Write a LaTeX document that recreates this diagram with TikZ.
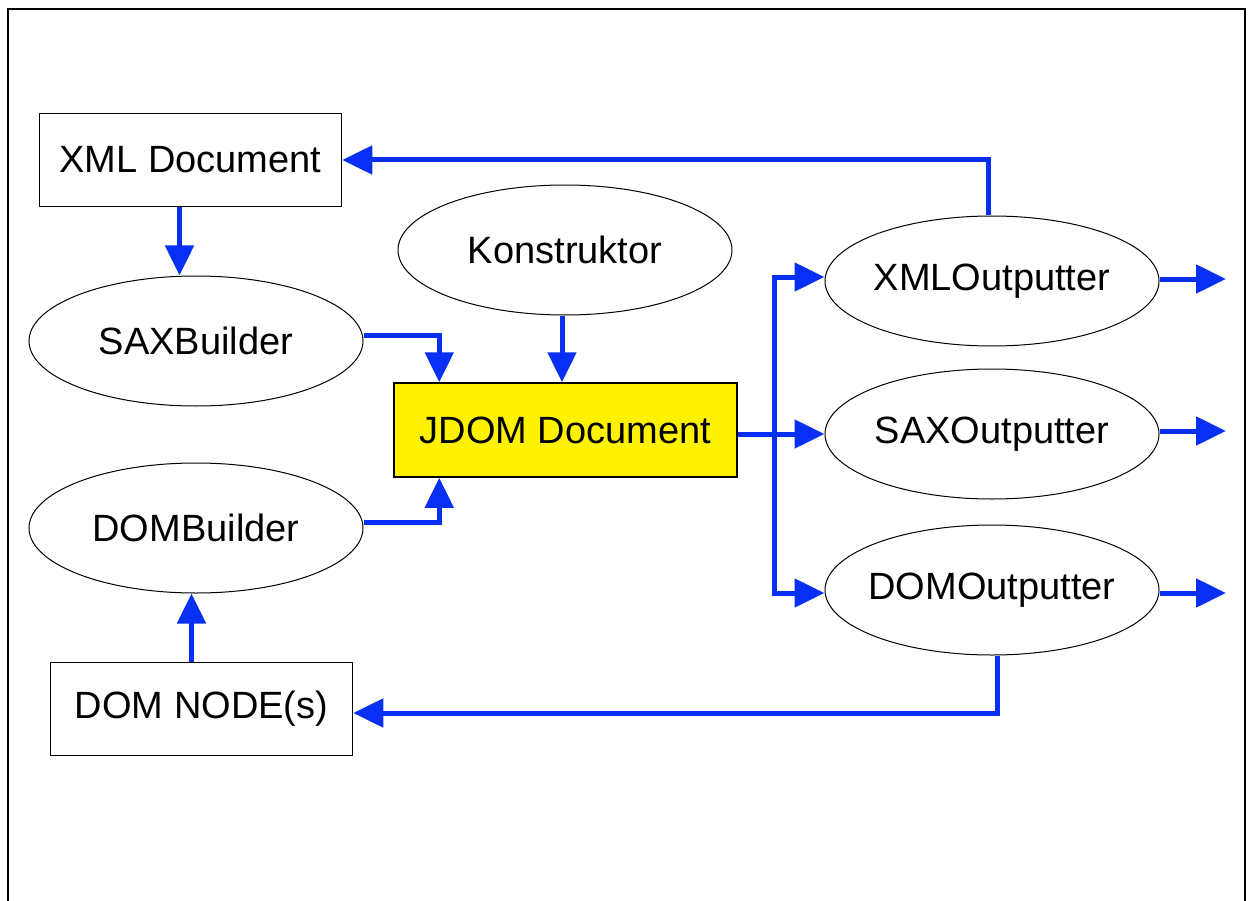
\documentclass[tikz,border=0pt]{standalone}
\usepackage{fontspec}
\setmainfont{Liberation Sans}
\usetikzlibrary{shapes.geometric,arrows.meta}

\definecolor{flowblue}{RGB}{8,48,245}

\tikzset{
  box/.style={draw, line width=1.5pt, inner sep=0pt, minimum width=302pt, minimum height=93pt},
  builder/.style={draw, ellipse, line width=1pt, inner sep=0pt, inner xsep=-20pt, minimum width=334pt, minimum height=130pt},
  flow/.style={flowblue, line width=5pt, -{Triangle[length=30pt,width=28pt]}},
  bus/.style={flowblue, line width=5pt}
}

\begin{document}
\begin{tikzpicture}[x=1pt, y=-1pt, font=\fontsize{38}{42}\selectfont]

\useasboundingbox (0,0) rectangle (1249,901);

%% frame (bottom edge runs off the page)
\draw[line width=2pt] (8,910) -- (8,9) -- (1245,9) -- (1245,910);

%% nodes
\node[box]  (xmldoc)  at (190.5,160) {XML Document};
\node[box]  (domnode) at (201.5,709) {DOM NODE(s)};
\node[builder] (saxb)  at (196,341) {SAXBuilder};
\node[builder] (domb)  at (196,528) {DOMBuilder};
\node[builder] (konst) at (565,250) {Konstruktor};
\node[box, fill=yellow, minimum width=343pt, minimum height=94pt] (jdom) at (565.5,430) {JDOM Document};
\node[builder] (xmlo) at (992,281) {XMLOutputter};
\node[builder] (saxo) at (992,434) {SAXOutputter};
\node[builder] (domo) at (992,590) {DOMOutputter};

%% free ends and the branch point
\coordinate (split)  at (774,434);
\coordinate (xmlend) at (1226,279);
\coordinate (saxend) at (1226,431);
\coordinate (domend) at (1226,593);

%% building the document
\draw[flow] ([xshift=-11pt]xmldoc.south) -- ([xshift=-11pt]xmldoc.south |- saxb.north);
\draw[flow] ([xshift=-10pt]domnode.north) -- ([xshift=-10pt]domnode.north |- domb.south);
\draw[flow] ([yshift=6pt]saxb.east) -| ([xshift=46pt]jdom.north west);
\draw[flow] ([yshift=6pt]domb.east) -| ([xshift=46pt]jdom.south west);
\draw[flow] ([xshift=-3pt]konst.south) -- ([xshift=-3pt]konst.south |- jdom.north);

%% output
\draw[bus]  (jdom.east |- split) -- (split);
\draw[flow] (split) -- (saxo.west);
\draw[flow] (split) |- ([yshift=4pt]xmlo.west);
\draw[flow] (split) |- ([yshift=-3pt]domo.west);
\draw[flow] (xmlo.east |- xmlend) -- (xmlend);
\draw[flow] (saxo.east |- saxend) -- (saxend);
\draw[flow] (domo.east |- domend) -- (domend);

%% back to the sources
\draw[flow] ([xshift=-4pt]xmlo.north) |- (xmldoc.east);
\draw[flow] ([xshift=5pt]domo.south) |- ([yshift=-4pt]domnode.east);

\end{tikzpicture}
\end{document}
